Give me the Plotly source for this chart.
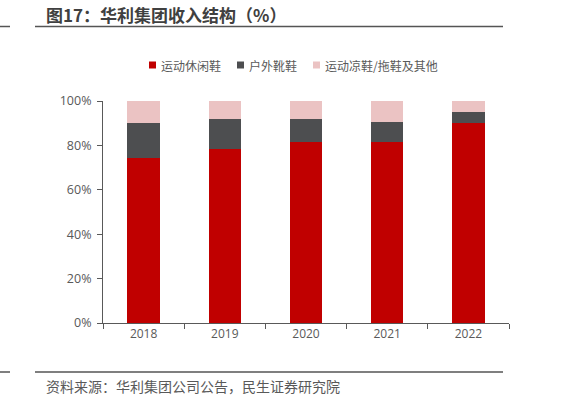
import plotly.graph_objects as go

years = ["2018", "2019", "2020", "2021", "2022"]
casual = [0.745, 0.782, 0.814, 0.814, 0.900]
outdoor = [0.157, 0.136, 0.105, 0.091, 0.050]
sandals = [0.098, 0.082, 0.081, 0.095, 0.050]
names = ["运动休闲鞋", "户外靴鞋", "运动凉鞋/拖鞋及其他"]
colors = ["#C00000", "#4D4E50", "#EBC3C3"]

FONT = "Open Sans, Noto Sans CJK SC, sans-serif"
CJK = "Noto Sans CJK SC, sans-serif"

fig = go.Figure()
for name, vals, c in zip(names, [casual, outdoor, sandals], colors):
    fig.add_trace(go.Bar(x=years, y=vals, name=name, marker=dict(color=c, line=dict(width=0))))

L, R, T, B = 103, 509, 101, 323
W, H = 562, 396
pw, ph = R - L, B - T

def px(x):
    return (x - L) / pw

def py(y):
    return (B - y) / ph

fig.update_layout(
    width=W, height=H,
    margin=dict(l=L, r=W - R, t=T, b=H - B, pad=0),
    barmode="stack", bargap=0.6,
    plot_bgcolor="white", paper_bgcolor="white",
    font=dict(family=FONT, size=12, color="#595959"),
    showlegend=False,
    xaxis=dict(showline=True, linecolor="#595959", linewidth=1, ticks="outside",
               tickson="boundaries", ticklen=5, tickcolor="#595959",
               tickfont=dict(family=FONT, size=12, color="#595959"), showgrid=False),
    yaxis=dict(range=[0, 1], tickvals=[0, 0.2, 0.4, 0.6, 0.8, 1.0], tickformat=".0%",
               showline=True, linecolor="#595959", linewidth=1, ticks="outside",
               ticklen=5, tickcolor="#595959", showgrid=False, zeroline=False,
               ticklabelstandoff=3,
               tickfont=dict(family=FONT, size=12.5, color="#595959")),
)

# legend drawn as colored squares + labels
leg_sq_x = [149, 237, 313]
for name, c, x0 in zip(names, colors, leg_sq_x):
    fig.add_shape(type="rect", xref="paper", yref="paper", x0=px(x0), x1=px(x0 + 7),
                  y0=py(68.5), y1=py(61.5), fillcolor=c, line=dict(width=0))
    fig.add_annotation(text=name, xref="paper", yref="paper", x=px(x0 + 10), y=py(65),
                       xanchor="left", yanchor="middle", showarrow=False,
                       font=dict(family=CJK, size=12, color="#595959"))

fig.add_annotation(text="<b>图17：华利集团收入结构（%）</b>", xref="paper", yref="paper",
                   x=px(44), y=py(14), xanchor="left", yanchor="middle", showarrow=False,
                   font=dict(family=CJK, size=17, color="#404040"))
fig.add_annotation(text="资料来源：华利集团公司公告，民生证券研究院", xref="paper", yref="paper",
                   x=px(44), y=py(386), xanchor="left", yanchor="middle", showarrow=False,
                   font=dict(family=CJK, size=14, color="#595959"))

for yy in (26.5, 372):
    fig.add_shape(type="line", xref="paper", yref="paper", x0=px(35), x1=px(503),
                  y0=py(yy), y1=py(yy), line=dict(color="#555555", width=1.5))
    fig.add_shape(type="line", xref="paper", yref="paper", x0=px(0), x1=px(10),
                  y0=py(yy), y1=py(yy), line=dict(color="#555555", width=1.5))

fig.write_html("out.html", config={"displayModeBar": False},
               post_script="document.body.style.margin='0';document.body.style.overflow='hidden';")
